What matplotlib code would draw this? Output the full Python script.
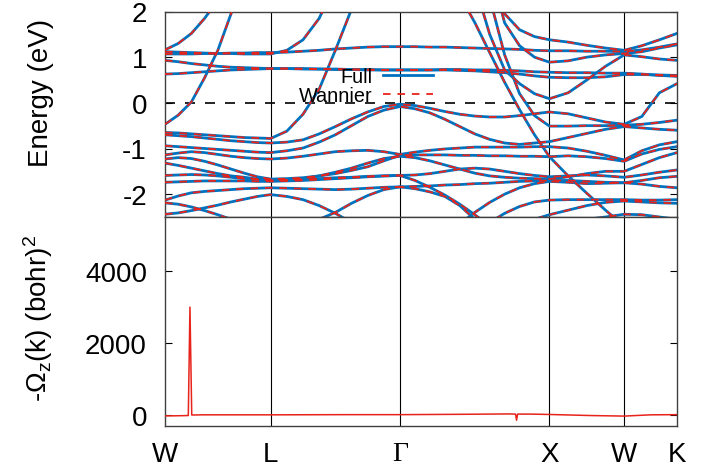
import matplotlib
matplotlib.use('Agg')
import matplotlib.pyplot as plt
from matplotlib.lines import Line2D

plt.rcParams['font.family'] = ['Liberation Sans', 'DejaVu Sans']
plt.rcParams['mathtext.default'] = 'regular'

# high-symmetry points along the path (distance in 2pi/a)
sym_k = [0.0, 0.7071, 1.5731, 2.5731, 3.0731, 3.4267]
sym_labels = ['W', 'L', 'Γ', 'X', 'W', 'K']

k_grid = [0.0, 0.0884, 0.1768, 0.2652, 0.3536, 0.4419, 0.5303, 0.6187, 0.7071,
          0.8154, 0.9236, 1.0319, 1.1401, 1.2484, 1.3566, 1.4649, 1.5731,
          1.6731, 1.7731, 1.8731, 1.9731, 2.0731, 2.1731, 2.2731, 2.3731, 2.4731, 2.5731,
          2.6981, 2.8231, 2.9481, 3.0731,
          3.1910, 3.3088, 3.4267]

# band energies (eV) on k_grid; 3 / -3 means the band is outside the window
band_s2 = [1.16, 1.30, 1.52, 1.85, 2.25, 3, 3, 3, 3] + [3] * 25
band_s1 = [-0.47, -0.27, 0.02, 0.55, 1.15, 1.95, 2.8, 3, 3] + [3] * 25
band_s3 = [1.12, 1.11, 1.10, 1.09, 1.08, 1.08, 1.07, 1.07, 1.07,
           1.15, 1.38, 1.85, 2.6, 3, 3, 3, 3] + [3] * 17
band_ub = [1.07, 1.07, 1.07, 1.08, 1.08, 1.09, 1.09, 1.10, 1.10,
           1.11, 1.13, 1.15, 1.18, 1.20, 1.22, 1.23, 1.23,
           1.23, 1.22, 1.22, 1.21, 1.20, 1.19, 1.18, 1.17, 1.15, 1.14,
           1.14, 1.13, 1.13, 1.12,
           1.16, 1.22, 1.29]
band_uc = [0.93, 0.90, 0.86, 0.83, 0.80, 0.78, 0.77, 0.76, 0.75,
           0.75, 0.74, 0.74, 0.73, 0.73, 0.72, 0.72, 0.72,
           0.72, 0.72, 0.73, 0.73, 0.72, 0.72, 0.71, 0.70, 0.68, 0.67,
           0.66, 0.66, 0.65, 0.65,
           0.63, 0.60, 0.58]
band_ud = [0.63, 0.64, 0.66, 0.68, 0.70, 0.72, 0.73, 0.74, 0.75,
           0.75, 0.75, 0.74, 0.74, 0.73, 0.73, 0.72, 0.72,
           0.72, 0.72, 0.72, 0.71, 0.70, 0.68, 0.66, 0.63, 0.59, 0.56,
           0.55, 0.55, 0.57, 0.62,
           0.62, 0.61, 0.60]
band_s4 = [-0.65, -0.66, -0.68, -0.70, -0.72, -0.74, -0.76, -0.77, -0.78,
           -0.62, -0.25, 0.30, 1.15, 2.05, 3, 3, 3] + [3] * 17
band_d1 = [3] * 17 + [3, 3, 3, 2.35, 1.76, 1.10, 0.45, -0.15, -0.70, -1.18,
                      -1.60, -1.98, -2.35, -2.70,
                      -3, -3, -3]
band_f = [3] * 17 + [3, 3, 3, 3, 3, 2.3, 1.05, 0.2, -0.28, -0.51,
                     -0.51, -0.50, -0.50, -0.49,
                     -0.47, -0.43, -0.38]
band_d2 = [3] * 17 + [3, 3, 3, 3, 2.6, 1.5, 0.72, 0.42, 0.20, 0.09,
                      0.22, 0.50, 0.80, 1.05,
                      1.01, 0.96, 0.93]
band_d3 = [3] * 17 + [3, 3, 3, 3, 3, 3, 1.75, 1.25, 1.00, 0.89,
                      0.92, 1.00, 1.05, 1.08,
                      1.12, 1.20, 1.27]
band_d4 = [3] * 17 + [3, 3, 3, 3, 3, 3, 1.95, 1.60, 1.45, 1.38,
                      1.33, 1.26, 1.20, 1.15,
                      1.25, 1.38, 1.52]
band_p = [-0.70, -0.72, -0.74, -0.77, -0.80, -0.83, -0.85, -0.87, -0.88,
          -0.86, -0.81, -0.68, -0.52, -0.35, -0.20, -0.08, -0.03,
          -0.06, -0.12, -0.19, -0.25, -0.29, -0.31, -0.31, -0.28, -0.24, -0.20,
          -0.24, -0.33, -0.42, -0.47,
          -0.30, 0.22, 0.42]
band_q = [-0.94, -0.96, -0.98, -1.00, -1.02, -1.04, -1.06, -1.08, -1.09,
          -1.05, -0.99, -0.86, -0.70, -0.50, -0.30, -0.16, -0.08,
          -0.13, -0.22, -0.36, -0.52, -0.68, -0.80, -0.88, -0.91, -0.88, -0.85,
          -0.76, -0.67, -0.58, -0.52,
          -0.55, -0.58, -0.60]
band_c1 = [-1.14, -1.10, -1.07, -1.09, -1.13, -1.17, -1.20, -1.22, -1.23,
           -1.21, -1.17, -1.12, -1.07, -1.05, -1.04, -1.07, -1.13,
           -1.08, -1.04, -1.01, -0.99, -0.97, -0.97, -0.97, -0.97, -0.96, -0.96,
           -0.99, -1.06, -1.15, -1.25,
           -1.05, -0.92, -0.85]
band_c2 = [-1.23, -1.20, -1.22, -1.28, -1.36, -1.45, -1.54, -1.62, -1.67,
           -1.66, -1.64, -1.60, -1.55, -1.48, -1.40, -1.27, -1.15,
           -1.14, -1.14, -1.14, -1.15, -1.15, -1.16, -1.16, -1.17, -1.17, -1.18,
           -1.16, -1.18, -1.22, -1.28,
           -1.12, -1.02, -0.96]
band_c3 = [-1.32, -1.37, -1.43, -1.49, -1.55, -1.60, -1.63, -1.67, -1.70,
           -1.69, -1.66, -1.60, -1.52, -1.43, -1.32, -1.22, -1.17,
           -1.20, -1.27, -1.36, -1.45, -1.54, -1.60, -1.63, -1.65, -1.66, -1.67,
           -1.62, -1.55, -1.50, -1.50,
           -1.35, -1.20, -1.09]
band_c4 = [-1.59, -1.58, -1.57, -1.58, -1.60, -1.63, -1.66, -1.68, -1.70,
           -1.69, -1.68, -1.66, -1.64, -1.63, -1.61, -1.60, -1.59,
           -1.58, -1.55, -1.50, -1.45, -1.43, -1.45, -1.50, -1.55, -1.59, -1.62,
           -1.60, -1.58, -1.60, -1.63,
           -1.58, -1.52, -1.47]
band_c7 = [-1.74, -1.73, -1.72, -1.71, -1.71, -1.71, -1.71, -1.72, -1.72,
           -1.71, -1.70, -1.68, -1.66, -1.64, -1.62, -1.60, -1.59,
           -1.70, -1.85, -2.02, -2.22, -2.45, -2.7, -3, -3, -3, -3] + [-3] * 7
band_c5 = [-2.13, -2.04, -1.97, -1.94, -1.92, -1.90, -1.88, -1.87, -1.86,
           -1.87, -1.88, -1.89, -1.90, -1.89, -1.87, -1.85, -1.84,
           -1.83, -1.82, -1.80, -1.79, -1.77, -1.76, -1.74, -1.72, -1.71, -1.70,
           -1.70, -1.72, -1.74, -1.75,
           -1.70, -1.64, -1.61]
band_c8 = [-2.19, -2.22, -2.28, -2.36, -2.45, -2.55, -2.65, -2.75, -2.85,
           -2.8, -2.7, -2.55, -2.40, -2.20, -2.03, -1.90, -1.84,
           -1.88, -1.95, -2.05, -2.25, -2.55, -2.9, -3, -3, -3, -3] + [-3] * 7
band_c6 = [-2.44, -2.41, -2.36, -2.30, -2.24, -2.17, -2.11, -2.05, -2.01,
           -2.05, -2.12, -2.25, -2.42, -2.62, -2.85, -3, -3,
           -3, -3, -3, -3, -2.85, -2.62, -2.42, -2.27, -2.17, -2.13,
           -2.12, -2.12, -2.12, -2.12,
           -2.13, -2.13, -2.12]
band_b2 = [-3] * 17 + [-3, -3, -3, -2.65, -2.40, -2.18, -2.00, -1.86, -1.77, -1.72,
                       -1.74, -1.77, -1.76, -1.75,
                       -1.78, -1.83, -1.86]
band_b3 = [-3] * 17 + [-3, -3, -3, -3, -3, -3, -3, -3, -2.85, -2.70,
                       -2.62, -2.55, -2.50, -2.44,
                       -2.45, -2.50, -2.55]
band_b4 = [-3] * 17 + [-3, -3, -3, -3, -3, -3, -2.9, -2.7, -2.55, -2.45,
                       -2.35, -2.25, -2.18, -2.15,
                       -2.17, -2.19, -2.20]

bands = [band_s2, band_s1, band_s3, band_ub, band_uc, band_ud, band_s4,
         band_d1, band_f, band_d2, band_d3, band_d4, band_p, band_q,
         band_c1, band_c2, band_c3, band_c4, band_c7, band_c5, band_c8,
         band_c6, band_b2, band_b3, band_b4]

# Berry curvature along the same path
berry_k = [0.0, 0.10, 0.150, 0.156, 0.167, 0.179, 0.25, 0.7071, 1.2, 1.5731, 2.0, 2.30,
           2.346, 2.353, 2.360, 2.45, 2.5731, 2.85, 3.0731, 3.25, 3.4267]
berry_omega = [-20, -15, -10, -10, 3000, 5, 10, 10, 15, 15, 25, 35,
               30, -140, 30, 30, 20, -10, -25, 10, 15]

blue = '#0072bd'
red = '#e8231b'

fig = plt.figure(figsize=(7.25, 4.77), dpi=100)
ax1 = fig.add_axes([165 / 725, 1 - 218 / 477, 512 / 725, 205.5 / 477])
ax2 = fig.add_axes([165 / 725, 1 - 427 / 477, 512 / 725, 209 / 477])

for b in bands:
    ax1.plot(k_grid, b, color=blue, lw=2.0, zorder=2)
for b in bands:
    ax1.plot(k_grid, b, color=red, lw=1.3, ls=(0, (4.2, 3.8)), zorder=3)

ax1.axhline(0, color='black', lw=1.2, ls=(0, (6, 6)), zorder=1.5)
for k in sym_k[1:-1]:
    ax1.axvline(k, color='black', lw=0.8, zorder=1)
    ax2.axvline(k, color='black', lw=0.8, zorder=1)

ax2.plot(berry_k, berry_omega, color=red, lw=1.1, zorder=3)

ax1.set_xlim(sym_k[0], sym_k[-1])
ax1.set_ylim(-2.5, 2)
ax1.set_yticks([-2, -1, 0, 1, 2])
ax1.set_yticklabels(['-2', '-1', '0', '1', '2'])
ax1.set_xticks(sym_k)
ax1.tick_params(axis='y', direction='in', length=5, right=True, labelsize=20, pad=13)
ax1.tick_params(axis='x', length=0, labelbottom=False)

ax2.set_xlim(sym_k[0], sym_k[-1])
ax2.set_ylim(-300, 5500)
ax2.set_yticks([0, 2000, 4000])
ax2.set_yticklabels(['0', '2000', '4000'])
ax2.set_xticks(sym_k)
ax2.set_xticklabels(sym_labels)
ax2.tick_params(axis='y', direction='in', length=5, right=True, labelsize=20, pad=13)
ax2.tick_params(axis='x', length=0, labelsize=20, pad=11)
for lab in ax2.get_xticklabels():
    if lab.get_text() == 'Γ':
        lab.set_fontfamily('Liberation Serif')

for ax in (ax1, ax2):
    for sp in ax.spines.values():
        sp.set_color('#404040')
        sp.set_linewidth(1.0)

ax1.set_ylabel('Energy (eV)', fontsize=20)
ax1.yaxis.set_label_coords(-0.217, 0.61)
ax2.set_ylabel('-Ω$_z$(k) (bohr)$^2$', fontsize=20)
ax2.yaxis.set_label_coords(-0.215, 0.52)

handles = [Line2D([], [], color=blue, lw=2.0),
           Line2D([], [], color=red, lw=1.3, ls=(0, (4.2, 3.8)))]
leg = ax1.legend(handles, ['Full', 'Wannier'], loc='upper right',
                 bbox_to_anchor=((433 - 165) / 512, (218 - 68) / 205.5),
                 frameon=False, markerfirst=False, fontsize=14.3,
                 handlelength=2.5, handletextpad=0.55, labelspacing=0.0,
                 borderpad=0, borderaxespad=0)
leg.set_zorder(5)

fig.savefig('out.png', dpi=100, facecolor='white')
